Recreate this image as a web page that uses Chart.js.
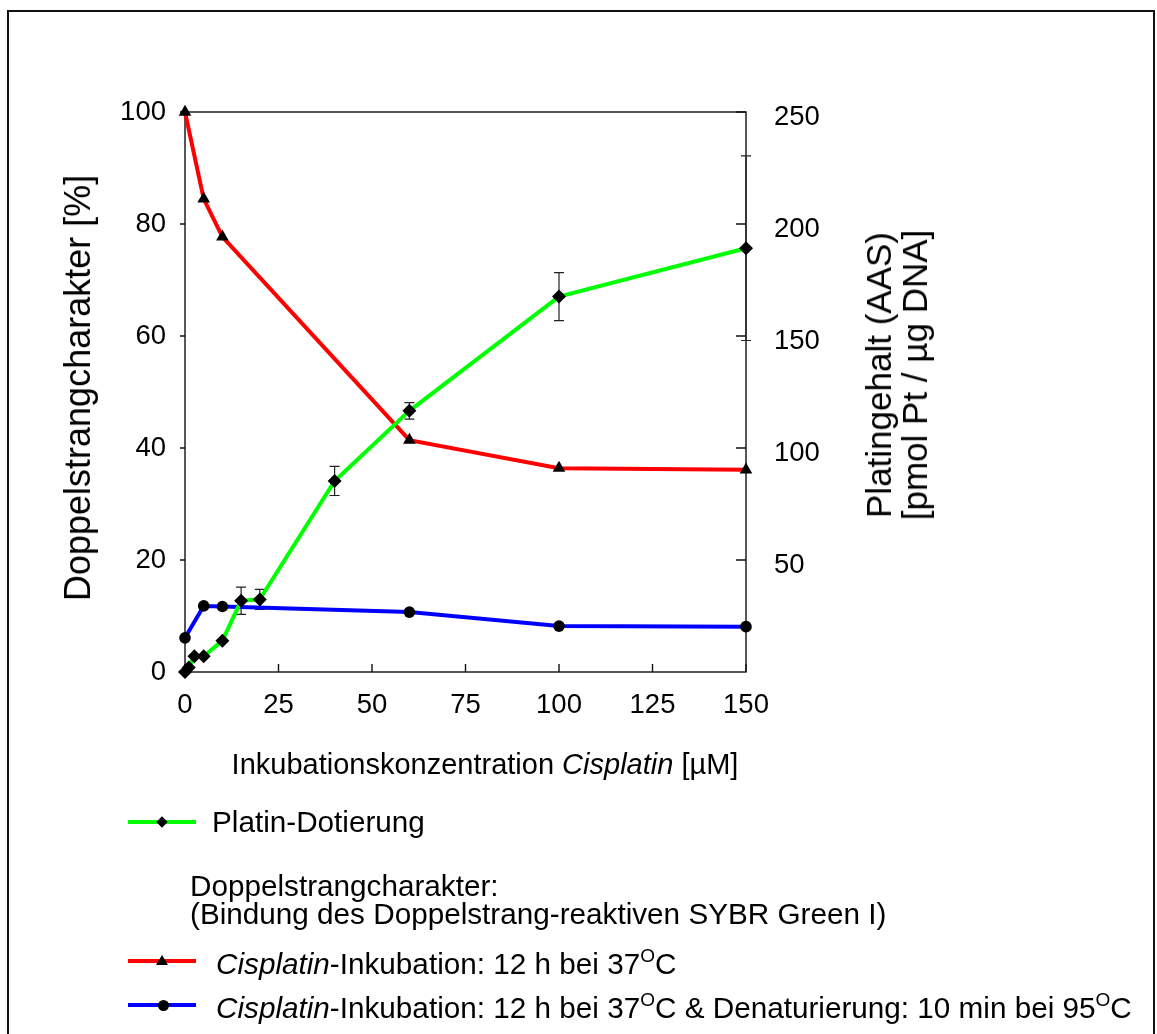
<!DOCTYPE html>
<html lang="de">
<head>
<meta charset="utf-8">
<title>Platin-Dotierung und Doppelstrangcharakter</title>
<script src="https://cdn.jsdelivr.net/npm/chart.js@4.4.0/dist/chart.umd.min.js"></script>
<style>
  html, body { margin: 0; padding: 0; background: #fff; }
  body {
    width: 1157px; height: 1034px; position: relative; overflow: hidden;
    font-family: 'Liberation Sans', Arial, sans-serif; color: #000;
  }
  #rahmen {
    position: absolute; left: 7px; top: 10px; width: 1148px; height: 1060px;
    border: 2px solid #111; box-sizing: border-box;
  }
  #diagramm { position: absolute; left: 0; top: 0; }
  .txt { position: absolute; white-space: nowrap; line-height: 1; }
  .rot90 { transform: translate(-50%, -50%) rotate(-90deg); }
  .y-titel { left: 78px; top: 388px; font-size: 36px; }
  .y2-titel { left: 897px; top: 375px; font-size: 35px; text-align: center; line-height: 36px; }
  .x-titel { left: 485px; top: 764px; font-size: 29px; transform: translate(-50%, -50%); }
  .leg { font-size: 29.7px; transform: translateY(-50%); }
  .leg sup { font-size: 19px; position: relative; top: -3px; vertical-align: top; }
  .strich { position: absolute; left: 128px; width: 68px; height: 4px; margin-top: -2px; }
  .mk { position: absolute; background: #000; }
  .raute { width: 8px; height: 8px; margin: -4px 0 0 -4px; transform: rotate(45deg); }
  .kreis { width: 11px; height: 11px; margin: -5.5px 0 0 -5.5px; border-radius: 50%; }
  .dreieck {
    width: 0; height: 0; background: none; margin: -6px 0 0 -6px;
    border-left: 6px solid transparent; border-right: 6px solid transparent; border-bottom: 10px solid #000;
  }
</style>
</head>
<body>
<div id="rahmen"></div>
<canvas id="diagramm" width="1157" height="1034"></canvas>

<div class="txt rot90 y-titel">Doppelstrangcharakter [%]</div>
<div class="txt rot90 y2-titel">Platingehalt (AAS)<br>[pmol Pt / µg DNA]</div>
<div class="txt x-titel">Inkubationskonzentration <i>Cisplatin</i> [µM]</div>

<div class="strich" style="top:822px;background:#00ff00"></div>
<div class="mk raute" style="left:162px;top:822px"></div>
<div class="txt leg" style="left:212px;top:822px">Platin-Dotierung</div>

<div class="txt leg" style="left:190px;top:886px">Doppelstrangcharakter:</div>
<div class="txt leg" style="left:190px;top:914px">(Bindung des Doppelstrang-reaktiven SYBR Green I)</div>

<div class="strich" style="top:961px;background:#ff0000"></div>
<div class="mk dreieck" style="left:162px;top:961px"></div>
<div class="txt leg" style="left:216px;top:964px"><i>Cisplatin</i>-Inkubation: 12 h bei 37<sup>O</sup>C</div>

<div class="strich" style="top:1005px;background:#0000ff"></div>
<div class="mk kreis" style="left:163px;top:1005px"></div>
<div class="txt leg" style="left:216px;top:1008px"><i>Cisplatin</i>-Inkubation: 12 h bei 37<sup>O</sup>C &amp; Denaturierung: 10 min bei 95<sup>O</sup>C</div>

<script>
// Konzentrationen in µM
const konzPlatin = [0, 1, 2.5, 5, 10, 15, 20, 40, 60, 100, 150];
// Platingehalt (AAS) in pmol Pt / µg DNA, mit Standardabweichung
const platinGehalt = [0, 2, 7, 7, 14, 31.8, 32.4, 85.3, 116.6, 167.6, 189.2];
const platinFehler = [0, 0, 0, 0, 0, 6.1, 4.5, 6.5, 3.7, 10.7, 41.2];

// Doppelstrangcharakter in %
const konzInkubation = [0, 5, 10, 60, 100, 150];
const dsInkubation = [100, 84.5, 77.7, 41.4, 36.4, 36.1];
const konzDenaturiert = [0, 5, 10, 60, 100, 150];
const dsDenaturiert = [6.1, 11.8, 11.7, 10.7, 8.2, 8.1];

const xTicks = [0, 25, 50, 75, 100, 125, 150];
const yTicks = [0, 20, 40, 60, 80, 100];
const y2Ticks = [50, 100, 150, 200, 250];

const schrift = "'Liberation Sans', Arial, sans-serif";

function punkte(xs, ys) {
  return xs.map((x, i) => ({ x: x, y: ys[i] }));
}

// Rahmen, Teilstriche und Fehlerbalken
const achsenPlugin = {
  id: 'achsen',
  beforeDatasetsDraw(chart) {
    const ctx = chart.ctx;
    const a = chart.chartArea;
    const sx = chart.scales.x, sy = chart.scales.y, sy2 = chart.scales.y2;
    ctx.save();
    ctx.strokeStyle = '#111';
    ctx.lineWidth = 1.4;
    ctx.strokeRect(a.left, a.top, a.right - a.left, a.bottom - a.top);

    ctx.beginPath();
    xTicks.forEach(v => {
      const px = sx.getPixelForValue(v);
      ctx.moveTo(px, a.bottom);
      ctx.lineTo(px, a.bottom - 8);
    });
    yTicks.forEach(v => {
      const py = sy.getPixelForValue(v);
      ctx.moveTo(a.left - 5, py);
      ctx.lineTo(a.left, py);
    });
    y2Ticks.forEach(v => {
      const py = sy2.getPixelForValue(v);
      ctx.moveTo(a.right - 10, py);
      ctx.lineTo(a.right, py);
    });
    ctx.stroke();

    // Fehlerbalken der Platin-Dotierung
    ctx.strokeStyle = '#222';
    ctx.lineWidth = 1.2;
    ctx.beginPath();
    konzPlatin.forEach((k, i) => {
      const f = platinFehler[i];
      if (!f) return;
      const px = sx.getPixelForValue(k);
      const oben = sy2.getPixelForValue(platinGehalt[i] + f);
      const unten = sy2.getPixelForValue(platinGehalt[i] - f);
      ctx.moveTo(px, oben); ctx.lineTo(px, unten);
      ctx.moveTo(px - 5, oben); ctx.lineTo(px + 5, oben);
      ctx.moveTo(px - 5, unten); ctx.lineTo(px + 5, unten);
    });
    ctx.stroke();
    ctx.restore();
  },
  afterDraw(chart) {
    // Beschriftung der rechten Achse, leicht nach unten versetzt
    const ctx = chart.ctx;
    const sy2 = chart.scales.y2;
    ctx.save();
    ctx.fillStyle = '#000';
    ctx.font = '27.5px ' + schrift;
    ctx.textAlign = 'left';
    ctx.textBaseline = 'middle';
    y2Ticks.forEach(v => {
      ctx.fillText(String(v), chart.chartArea.right + 28, sy2.getPixelForValue(v) + 5);
    });
    ctx.restore();
  }
};

const ctx = document.getElementById('diagramm').getContext('2d');
const chart = new Chart(ctx, {
  type: 'line',
  data: {
    datasets: [
      {
        label: 'Platin-Dotierung',
        data: punkte(konzPlatin, platinGehalt),
        yAxisID: 'y2',
        borderColor: '#00ff00',
        borderWidth: 4,
        pointStyle: 'rectRot',
        pointRadius: 7,
        pointBorderWidth: 0,
        pointBackgroundColor: '#000',
        pointBorderColor: '#000',
        clip: false
      },
      {
        label: 'Cisplatin-Inkubation: 12 h bei 37°C',
        data: punkte(konzInkubation, dsInkubation),
        yAxisID: 'y',
        borderColor: '#ff0000',
        borderWidth: 4,
        pointStyle: 'triangle',
        pointRadius: 7.3,
        pointBorderWidth: 0,
        pointBackgroundColor: '#000',
        pointBorderColor: '#000',
        clip: false
      },
      {
        label: 'Cisplatin-Inkubation: 12 h bei 37°C & Denaturierung: 10 min bei 95°C',
        data: punkte(konzDenaturiert, dsDenaturiert),
        yAxisID: 'y',
        borderColor: '#0000ff',
        borderWidth: 4,
        pointStyle: 'circle',
        pointRadius: 5.8,
        pointBorderWidth: 0,
        pointBackgroundColor: '#000',
        pointBorderColor: '#000',
        clip: false
      }
    ]
  },
  options: {
    responsive: false,
    animation: false,
    devicePixelRatio: 1,
    events: [],
    layout: { padding: { top: 112, left: 0, right: 0, bottom: 0 } },
    plugins: {
      legend: { display: false },
      tooltip: { enabled: false }
    },
    scales: {
      x: {
        type: 'linear',
        min: 0,
        max: 150,
        afterBuildTicks: s => { s.ticks = xTicks.map(v => ({ value: v })); },
        ticks: { color: '#000', font: { family: schrift, size: 27.5 }, padding: 17, maxRotation: 0 },
        grid: { display: false, drawTicks: false },
        border: { display: false },
        afterFit: s => { s.height = 362; }
      },
      y: {
        position: 'left',
        min: 0,
        max: 100,
        afterBuildTicks: s => { s.ticks = yTicks.map(v => ({ value: v })); },
        ticks: { color: '#000', font: { family: schrift, size: 27.5 }, padding: 19 },
        grid: { display: false, drawTicks: false },
        border: { display: false },
        afterFit: s => { s.width = 185; }
      },
      y2: {
        position: 'right',
        min: 0,
        max: 250,
        ticks: { display: false },
        grid: { display: false, drawTicks: false },
        border: { display: false },
        afterFit: s => { s.width = 411; }
      }
    }
  },
  plugins: [achsenPlugin]
});
</script>
</body>
</html>
